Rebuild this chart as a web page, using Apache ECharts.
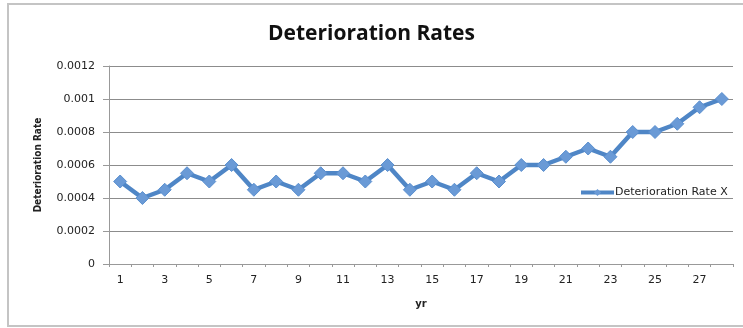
<!DOCTYPE html>
<html>
<head>
<meta charset="utf-8">
<script src="https://cdn.jsdelivr.net/npm/echarts@6/dist/echarts.min.js"></script>
<style>html,body{margin:0;padding:0;background:#fff}#c{width:743px;height:328px}</style>
</head>
<body>
<div id="c"></div>
<script>
const categories = ['1','2','3','4','5','6','7','8','9','10','11','12','13','14','15','16','17','18','19','20','21','22','23','24','25','26','27','28'];
const seriesName = 'Deterioration Rate X';
const values = [0.0005,0.0004,0.00045,0.00055,0.0005,0.0006,0.00045,0.0005,0.00045,0.00055,0.00055,0.0005,0.0006,0.00045,0.0005,0.00045,0.00055,0.0005,0.0006,0.0006,0.00065,0.0007,0.00065,0.0008,0.0008,0.00085,0.00095,0.001];
const yTicks = ['0','0.0002','0.0004','0.0006','0.0008','0.001','0.0012'];

const chart = echarts.init(document.getElementById('c'));
chart.setOption({
  animation: false,
  backgroundColor: '#fff',
  graphic: [{
    type: 'rect', shape: {x: 8, y: 4, width: 745, height: 322},
    style: {fill: 'none', stroke: '#c4c4c4', lineWidth: 2}, silent: true
  }],
  title: {
    text: 'Deterioration Rates', left: 'center', top: 19,
    textStyle: {fontFamily: 'Open Sans', fontWeight: 'bold', fontSize: 21, color: '#111'}
  },
  legend: {
    data: [seriesName], left: 574, top: 182, itemWidth: 33, itemHeight: 9, itemGap: 0,
    lineStyle: {width: 4, color: '#4f86c6'},
    itemStyle: {color: '#6a9ad6', borderWidth: 0},
    textStyle: {fontFamily: 'DejaVu Sans', fontSize: 11, color: '#222', padding: [0,0,0,-4]}
  },
  grid: {left: 109, right: 10, top: 66, bottom: 64, containLabel: false},
  xAxis: {
    type: 'category', data: categories, boundaryGap: true,
    name: 'yr', nameLocation: 'middle', nameGap: 35,
    nameTextStyle: {fontFamily: 'DejaVu Sans', fontWeight: 'bold', fontSize: 10, color: '#222'},
    axisLine: {lineStyle: {color: '#999', width: 1}},
    axisTick: {show: true, alignWithLabel: false, interval: 0, length: 3, lineStyle: {color: '#999'}},
    axisLabel: {interval: 1, fontFamily: 'DejaVu Sans', fontSize: 11, color: '#222', margin: 11},
    splitLine: {show: false}
  },
  yAxis: {
    type: 'value', min: 0, max: 0.0012, interval: 0.0002,
    name: 'Deterioration Rate', nameLocation: 'middle', nameGap: 66, nameRotate: 90,
    nameTextStyle: {fontFamily: 'DejaVu Sans Condensed', fontWeight: 'bold', fontSize: 10, color: '#222'},
    axisLine: {show: true, lineStyle: {color: '#999', width: 1}},
    axisTick: {show: true, inside: false, length: 6, lineStyle: {color: '#999'}},
    axisLabel: {fontFamily: 'DejaVu Sans', fontSize: 11, color: '#222', margin: 14,
      formatter: function (v) { const i = Math.round(v / 0.0002); return yTicks[i] !== undefined ? yTicks[i] : String(v); }},
    splitLine: {show: true, lineStyle: {color: '#8c8c8c', width: 1}}
  },
  series: [{
    name: seriesName, type: 'line', data: values,
    symbol: 'diamond', symbolSize: 13,
    lineStyle: {color: '#4f86c6', width: 4.5},
    itemStyle: {color: '#6a9ad6', borderColor: '#5a8fcf', borderWidth: 1}
  }]
});
</script>
</body>
</html>
